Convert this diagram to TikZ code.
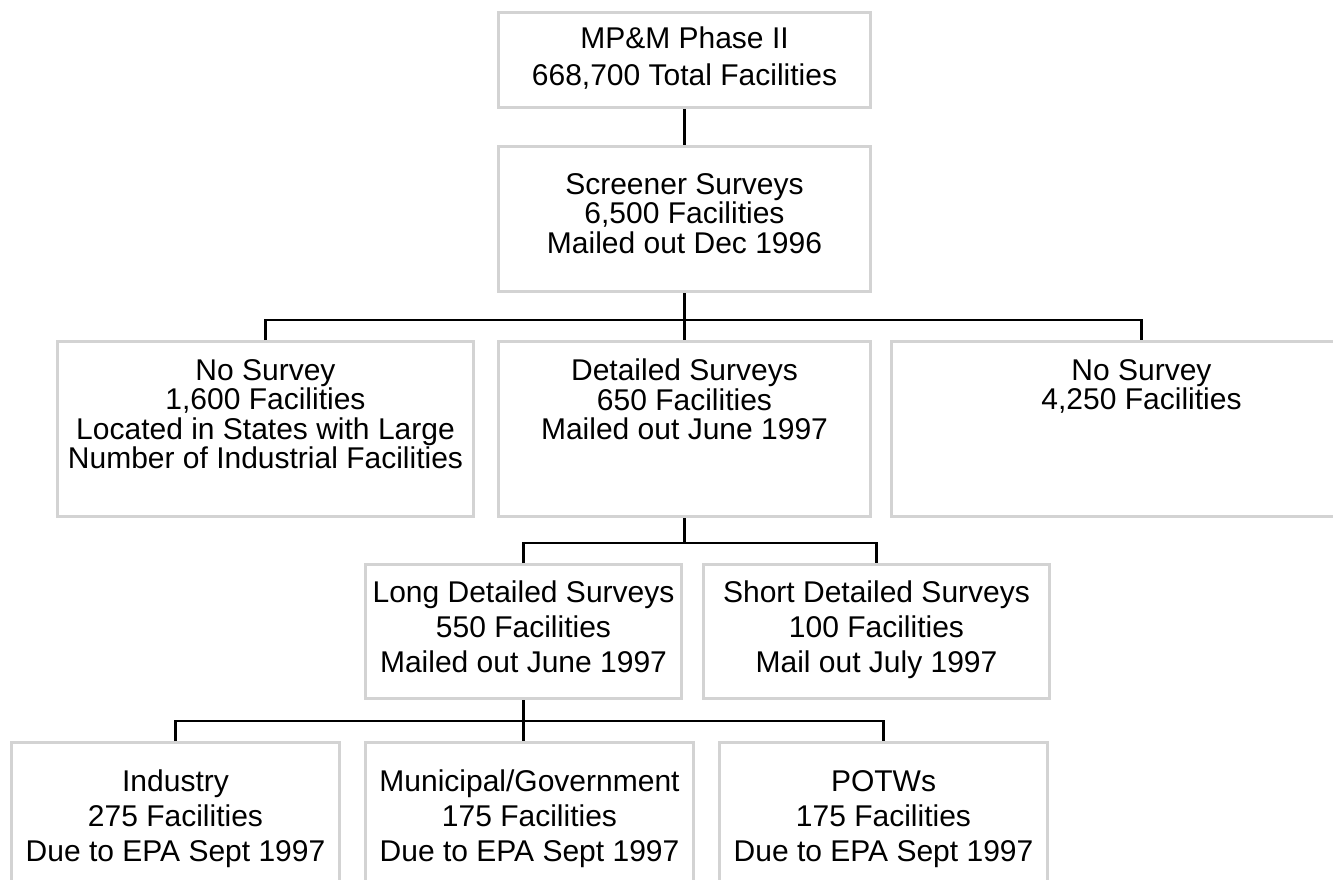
\documentclass[tikz,border=0pt]{standalone}
\usepackage{fontspec}
\setmainfont{Liberation Sans}
\usetikzlibrary{positioning}
\definecolor{boxgray}{HTML}{D3D3D3}
\tikzset{
  facbox/.style={draw=boxgray, line width=3pt, anchor=north west, inner sep=0pt},
  factext/.style={align=center, inner sep=0pt, font=\fontsize{30}{35}\selectfont},
  tighttext/.style={factext, font=\fontsize{30}{29.5}\selectfont},
  link/.style={line width=2.5pt, black}
}

\begin{document}
\begin{tikzpicture}[x=1pt,y=-1pt]
\useasboundingbox (0,0) rectangle (1333,879);
\clip (0,0) rectangle (1333,879);
% boxes
\node[facbox,minimum width=372,minimum height=95] (phase) at (497,11) {};
\node[facbox,minimum width=372,minimum height=145] (screener) at (497,145) {};
\node[facbox,minimum width=416,minimum height=175] (nosurveyA) at (56,340) {};
\node[facbox,minimum width=372,minimum height=175] (detailed) at (497,340) {};
\node[facbox,minimum width=500,minimum height=175] (nosurveyB) at (890,340) {};
\node[facbox,minimum width=316,minimum height=134] (longdet) at (364,563) {};
\node[facbox,minimum width=346,minimum height=134] (shortdet) at (702,563) {};
\node[facbox,minimum width=328,minimum height=200] (industry) at (10,741) {};
\node[facbox,minimum width=328,minimum height=200] (municipal) at (364,741) {};
\node[facbox,minimum width=328,minimum height=200] (potws) at (718,741) {};
% texts
\node[factext,font=\fontsize{30}{37}\selectfont,below=16pt of phase.north] (phaseT) {MP\&M Phase II\\668,700 Total Facilities};
\node[tighttext,below=28pt of screener.north] (screenerT) {Screener Surveys\\6,500 Facilities\\Mailed out Dec 1996};
\node[tighttext,below=19pt of nosurveyA.north] (nosurveyAT) {No Survey\\1,600 Facilities\\Located in States with Large\\Number of Industrial Facilities};
\node[tighttext,below=19pt of detailed.north] (detailedT) {Detailed Surveys\\650 Facilities\\Mailed out June 1997};
\node[tighttext,below=19pt of nosurveyB.north] (nosurveyBT) {No Survey\\4,250 Facilities};
\node[factext,below=18pt of longdet.north] (longdetT) {Long Detailed Surveys\\550 Facilities\\Mailed out June 1997};
\node[factext,below=18pt of shortdet.north] (shortdetT) {Short Detailed Surveys\\100 Facilities\\Mail out July 1997};
\node[factext,below=29pt of industry.north] (industryT) {Industry\\275 Facilities\\Due to EPA Sept 1997};
\node[factext,below=29pt of municipal.north] (municipalT) {Municipal/Government\\175 Facilities\\Due to EPA Sept 1997};
\node[factext,below=29pt of potws.north] (potwsT) {POTWs\\175 Facilities\\Due to EPA Sept 1997};
% connectors
\draw[link] (phase) -- (screener);
\coordinate (busA) at ([yshift=-27pt]screener.south);
\draw[link] (screener.south) -- (detailed.north);
\draw[link] (nosurveyA.north) |- (busA) -| (nosurveyB.north);
\coordinate (busB) at ([yshift=-25pt]detailed.south);
\draw[link] (detailed.south) -- (busB);
\draw[link] (longdet.north) |- (busB) -| (shortdet.north);
\coordinate (busC) at ([yshift=-21pt]longdet.south);
\draw[link] (longdet.south) -- (longdet.south |- municipal.north);
\draw[link] (industry.north) |- (busC) -| (potws.north);
\end{tikzpicture}
\end{document}
